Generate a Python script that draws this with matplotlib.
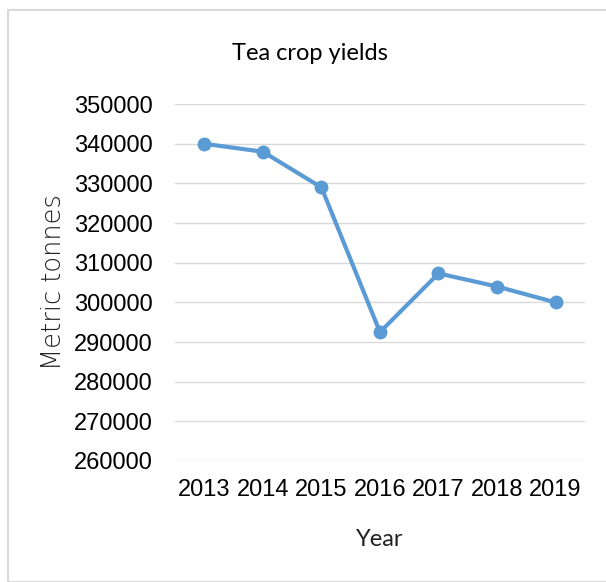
import matplotlib.pyplot as plt
from matplotlib.patches import Rectangle

years = ['2013', '2014', '2015', '2016', '2017', '2018', '2019']
yields = [340000, 338000, 329000, 292500, 307300, 304000, 300000]
yticks = list(range(260000, 350001, 10000))

plt.rcParams['font.family'] = ['Liberation Sans', 'DejaVu Sans']

fig = plt.figure(figsize=(6.06, 5.82), dpi=100)
ax = fig.add_axes([0.289, 0.208, 0.676, 0.613])

# chart border like an Excel chart area
fig.patches.append(Rectangle((8 / 606, 0), 1, 1 - 10 / 582, transform=fig.transFigure,
                             fill=False, edgecolor='#d9d9d9', linewidth=1.5))

x = range(len(years))
ax.plot(x, yields, color='#5b9bd5', linewidth=3, marker='o', markersize=9)

ax.set_xlim(-0.5, len(years) - 0.5)
ax.set_ylim(260000, 350000)
ax.set_yticks(yticks)
ax.set_yticklabels([str(v) for v in yticks], fontsize=17)
ax.set_xticks(list(x))
ax.set_xticklabels(years, fontsize=17)
ax.tick_params(axis='y', length=0, pad=16)
ax.tick_params(axis='x', length=0, pad=13)
ax.grid(axis='y', color='#d9d9d9', linewidth=1)
ax.set_axisbelow(True)
for s in ax.spines.values():
    s.set_visible(False)

fig.text(380 / 606, 1 - 540 / 582, 'Year', fontsize=17, family=['Lato', 'DejaVu Sans'],
         ha='center', va='center', color='#222222')
fig.text(54 / 606, 1 - 282 / 582, 'Metric tonnes', rotation=90, fontsize=18.5,
         family=['DejaVu Sans'], fontweight='light', ha='center', va='center', color='#222222')
fig.text(310 / 606, 1 - 53 / 582, 'Tea crop yields', fontsize=17, family=['Lato', 'DejaVu Sans'],
         ha='center', va='center')

fig.savefig('out.png', dpi=100)
